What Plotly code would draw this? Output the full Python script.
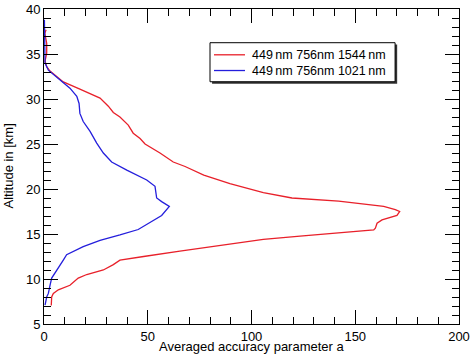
import plotly.graph_objects as go

# Red series: 449 nm 756nm 1544 nm
red_alt = [37.7, 37.3, 36.2, 35.1, 34.2, 33.6, 33.1, 31.9, 31.1, 30.1, 29.2, 28.5, 28.0, 27.1,
           26.2, 25.6, 25.0, 24.0, 23.0, 22.5, 21.55, 20.6, 19.6, 19.0, 18.65, 18.06, 17.7, 17.5,
           17.06, 16.57, 16.2, 15.65, 15.45, 15.1, 14.76, 14.4, 13.75, 13.1, 12.5, 12.1, 11.6,
           11.0, 10.5, 10.1, 9.3, 8.8, 8.4, 8.0, 7.05]
red_val = [1.0, 0.4, 1.3, 1.3, 0.5, 1.3, 2.9, 9.3, 17.3, 27.0, 31.0, 33.4, 36.6, 40.6,
           43.0, 46.3, 48.7, 55.9, 62.3, 68.0, 77.0, 89.6, 105.7, 119.5, 142.0, 163.7, 169.3, 171.4,
           170.1, 162.9, 160.5, 159.7, 158.9, 142.7, 123.4, 105.7, 84.8, 65.5, 48.0, 36.6, 33.4,
           28.6, 20.6, 16.5, 12.5, 6.9, 4.5, 3.7, 3.5]

# Blue series: 449 nm 756nm 1021 nm
blue_alt = [38.8, 36.5, 34.0, 33.2, 32.1, 31.2, 30.3, 29.5, 28.4, 27.5, 26.4, 25.1, 24.0, 23.0,
            22.1, 21.0, 20.3, 19.0, 18.6, 18.06, 17.06, 16.4, 15.5, 14.9, 14.3, 13.6, 12.7, 12.1,
            11.0, 10.1, 9.3, 8.4, 8.0, 7.1]
blue_val = [0.2, 0.3, 0.5, 2.1, 7.7, 12.5, 15.8, 16.9, 17.3, 18.9, 22.2, 25.4, 28.6, 32.6,
            39.9, 49.5, 53.5, 54.3, 56.7, 60.4, 56.7, 51.9, 45.4, 36.6, 27.0, 18.9, 10.9, 9.3,
            6.1, 3.7, 2.9, 2.1, 1.3, 0.5]

names = ["449\u2009nm 756nm 1544\u2009nm", "449\u2009nm 756nm 1021\u2009nm"]
colors = ["rgb(232,32,42)", "rgb(36,30,220)"]
x_title = "Averaged accuracy parameter a"
y_title = "Altitude in [km]"
x_ticks = [0, 50, 100, 150, 200]
y_ticks = [5, 10, 15, 20, 25, 30, 35, 40]

FONT = "Liberation Sans, Arial, Helvetica, sans-serif"

fig = go.Figure()
fig.add_trace(go.Scatter(x=red_val, y=red_alt, mode="lines", name=names[0],
                         line=dict(color=colors[0], width=1.3)))
fig.add_trace(go.Scatter(x=blue_val, y=blue_alt, mode="lines", name=names[1],
                         line=dict(color=colors[1], width=1.3)))

# legend frame with drop shadow
fig.add_shape(type="rect", xref="paper", yref="paper", x0=0.405, x1=0.851, y0=0.763, y1=0.887,
              line=dict(width=0), fillcolor="#333333", layer="above")
fig.add_shape(type="rect", xref="paper", yref="paper", x0=0.4, x1=0.846, y0=0.769, y1=0.893,
              line=dict(width=1, color="black"), fillcolor="white", layer="above")
# legend entries (drawn manually for exact spacing)
legend_rows_y = [0.8546, 0.8047]
for name, col, yy in zip(names, colors, legend_rows_y):
    fig.add_shape(type="line", xref="paper", yref="paper", x0=0.4096, x1=0.4843, y0=yy, y1=yy,
                  line=dict(color=col, width=1.3), layer="above")
    fig.add_annotation(text=name, xref="paper", yref="paper", x=0.4964, y=yy,
                       showarrow=False, xanchor="left", yanchor="middle",
                       font=dict(family=FONT, size=12.5, color="black"))

axis_common = dict(
    showline=True, linecolor="black", linewidth=1, mirror="allticks",
    ticks="inside", ticklen=14, tickwidth=1, tickcolor="black",
    showgrid=False, zeroline=False, automargin=False,
    tickfont=dict(family=FONT, size=13, color="black"),
)

fig.update_xaxes(range=[0, 200], tickvals=x_ticks, ticktext=[str(v) for v in x_ticks],
                 minor=dict(dtick=10, ticks="inside", ticklen=7, tickcolor="black", showgrid=False),
                 **axis_common)
fig.update_yaxes(range=[5, 40], tickvals=y_ticks, ticktext=[str(v) for v in y_ticks],
                 minor=dict(dtick=1, ticks="inside", ticklen=7, tickcolor="black", showgrid=False),
                 **axis_common)

fig.add_annotation(text=x_title, xref="paper", yref="paper", x=0.5, y=0, yshift=-22,
                   showarrow=False, xanchor="center", yanchor="middle",
                   font=dict(family=FONT, size=13, color="black"))
fig.add_annotation(text=y_title, xref="paper", yref="paper", x=0, y=0.5, xshift=-36,
                   showarrow=False, xanchor="center", yanchor="middle", textangle=-90,
                   font=dict(family=FONT, size=13, color="black"))

fig.update_layout(
    width=474, height=357,
    margin=dict(l=44, r=15, t=9, b=33, autoexpand=False),
    paper_bgcolor="white", plot_bgcolor="white",
    font=dict(family=FONT, size=13, color="black"),
    showlegend=False,
)

fig.write_html("out.html", config={"displayModeBar": False},
               post_script="document.body.style.margin='0';")
